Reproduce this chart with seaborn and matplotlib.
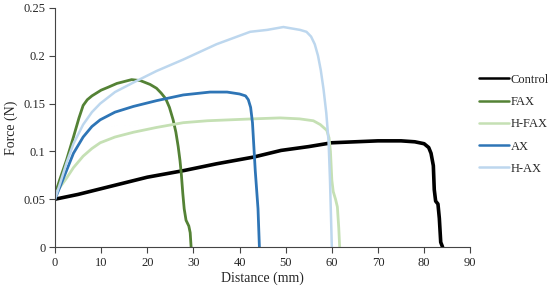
import numpy as np
import pandas as pd
import matplotlib
matplotlib.use("Agg")
import matplotlib.pyplot as plt
import seaborn as sns

control_x = [0, 5, 10, 20, 28, 35, 43, 49, 55, 60, 65, 70, 75, 78, 80, 81, 81.5, 82, 82.2, 82.5, 83, 83.3, 83.6, 84]
control_y = [0.05, 0.055, 0.061, 0.073, 0.08, 0.087, 0.094, 0.101, 0.105, 0.109, 0.11, 0.111, 0.111, 0.11, 0.108, 0.104, 0.098, 0.085, 0.06, 0.048, 0.045, 0.03, 0.005, 0]

fax_x = [0, 1, 2.5, 4, 5.2, 6.1, 7, 8, 9, 10, 11.5, 13.4, 15, 16.6, 18.5, 20.6, 22, 23, 24, 24.8, 25.6, 26.2, 26.7, 27.1, 27.4, 27.7, 28.0, 28.4, 29.0, 29.3, 29.5]
fax_y = [0.055, 0.07, 0.091, 0.115, 0.135, 0.148, 0.154, 0.158, 0.161, 0.164, 0.167, 0.171, 0.173, 0.175, 0.174, 0.17, 0.166, 0.161, 0.155, 0.146, 0.133, 0.12, 0.105, 0.09, 0.075, 0.056, 0.04, 0.028, 0.022, 0.015, 0]

hfax_x = [0, 1, 2.5, 4, 6.1, 8, 9.8, 13, 17, 22, 27.8, 33, 38, 43, 48.8, 53, 56, 57.5, 58.9, 59.4, 59.7, 60, 60.3, 60.8, 61.2, 61.5, 61.7]
hfax_y = [0.055, 0.062, 0.072, 0.083, 0.095, 0.103, 0.109, 0.115, 0.12, 0.125, 0.13, 0.132, 0.133, 0.134, 0.135, 0.134, 0.132, 0.128, 0.122, 0.114, 0.1, 0.07, 0.058, 0.05, 0.042, 0.02, 0]

ax_x = [0, 1, 2.5, 4, 6.1, 8, 9.8, 13, 17, 22, 27.8, 33.6, 37.3, 40, 41.3, 41.9, 42.4, 42.8, 43.1, 43.4, 44, 44.3]
ax_y = [0.05, 0.062, 0.08, 0.098, 0.115, 0.126, 0.133, 0.141, 0.147, 0.153, 0.159, 0.162, 0.162, 0.16, 0.158, 0.154, 0.146, 0.13, 0.105, 0.08, 0.04, 0]

hax_x = [0, 1, 2.5, 4, 6.1, 8, 9.8, 13, 17, 22, 27.8, 35, 42.3, 46, 49.5, 53.1, 54.5, 55.5, 56.3, 57, 57.6, 58.2, 58.8, 59.3, 59.6, 60]
hax_y = [0.05, 0.065, 0.088, 0.108, 0.128, 0.141, 0.15, 0.162, 0.172, 0.184, 0.196, 0.212, 0.225, 0.227, 0.23, 0.227, 0.225, 0.22, 0.212, 0.2, 0.185, 0.165, 0.14, 0.11, 0.07, 0]

series = ["Control", "FAX", "H-FAX", "AX", "H-AX"]
colors = ["#000000", "#548235", "#C5E0B4", "#2E75B6", "#BDD7EE"]
widths = [2.6, 2.0, 2.0, 2.0, 1.8]

frames = []
for name, xs, ys in zip(series, [control_x, fax_x, hfax_x, ax_x, hax_x],
                        [control_y, fax_y, hfax_y, ax_y, hax_y]):
    frames.append(pd.DataFrame({"Distance": xs, "Force": ys, "Sample": name}))
df = pd.concat(frames, ignore_index=True)

sns.set_style("white")
plt.rcParams["font.family"] = ["Liberation Serif", "DejaVu Serif"]

fig = plt.figure(figsize=(5.5, 2.92), dpi=100)
ax = fig.add_axes([0.1, 0.154, 0.755, 0.819])

sns.lineplot(data=df, x="Distance", y="Force", hue="Sample", hue_order=series,
             palette=colors, sort=False, estimator=None, ax=ax, legend=True)
for line, w in zip(ax.get_lines(), widths):
    line.set_linewidth(w)
    line.set_solid_joinstyle("round")

ax.set_xlim(0, 90)
ax.set_ylim(0, 0.25)
ax.set_xticks(range(0, 91, 10))
ax.set_yticks([0, 0.05, 0.1, 0.15, 0.2, 0.25])
ax.set_yticklabels(["0", "0.05", "0.1", "0.15", "0.2", "0.25"])
ax.set_xlabel("Distance (mm)", fontsize=10, labelpad=2)
ax.set_ylabel("Force (N)", fontsize=10, labelpad=4)
ax.tick_params(axis="both", direction="out", length=4, width=0.8, color="#444444",
               labelsize=9, pad=3, bottom=True, left=True)
for s in ["top", "right"]:
    ax.spines[s].set_visible(False)
for s in ["left", "bottom"]:
    ax.spines[s].set_color("#444444")
    ax.spines[s].set_linewidth(0.8)

handles, labels = ax.get_legend_handles_labels()
for h in handles:
    h.set_linewidth(1.8)
leg = ax.legend(handles, labels, loc="upper left", bbox_to_anchor=(1.01, 0.745),
                frameon=False, fontsize=9, handlelength=2.4, handletextpad=0.1,
                labelspacing=0.82, borderaxespad=0)

fig.savefig("out.png", dpi=100)
